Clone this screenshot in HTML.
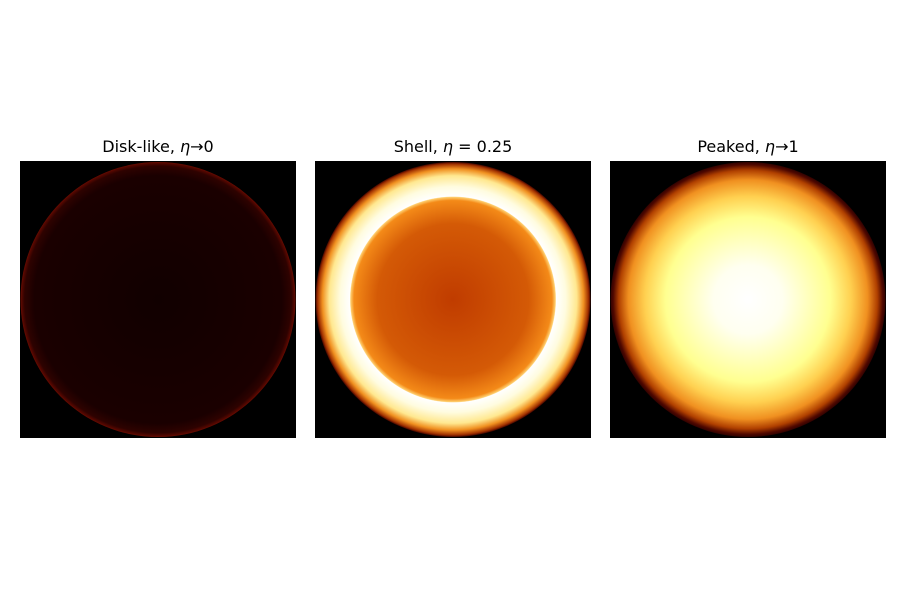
<!DOCTYPE html>
<html><head><meta charset="utf-8"><style>
body{margin:0;background:#fff;width:900px;height:600px;overflow:hidden;font-family:"DejaVu Sans","Liberation Sans",sans-serif}
.t{position:absolute;font-size:16px;color:#000;text-align:center;width:276px;top:137px}
</style></head><body>
<div class="t" style="left:20px">Disk-like, <i>η</i>→0</div>
<div class="t" style="left:315px">Shell, <i>η</i> = 0.25</div>
<div class="t" style="left:610px">Peaked, <i>η</i>→1</div>
<svg width="900" height="600" style="position:absolute;left:0;top:0">
<defs id="defs"></defs>
<g id="panels"></g>
</svg>
<script>
const panelNames=["disk","shell","peaked"];
const panelX=[20,315,610];
const offsets=[[0,0.9,0.97,0.995,1],[0,0.55,0.72,0.745,0.75,0.82,0.9,0.95,0.985,1],[0,0.25,0.6,0.75,0.87,0.94,0.98,1]];
const colors=[["#110000","#1a0000","#2e0200","#5a0800","#700c00"],
["#c03c00","#d45a06","#f48a18","#ffd070","#ffffff","#fffce0","#ffe890","#f09020","#a03000","#400400"],
["#ffffff","#fffff0","#ffff90","#ffd050","#f09020","#b04000","#500800","#300200"]];
const NS="http://www.w3.org/2000/svg";
const defs=document.getElementById('defs'),g=document.getElementById('panels');
panelNames.forEach((n,i)=>{
 const rg=document.createElementNS(NS,'radialGradient');rg.setAttribute('id','g'+i);
 offsets[i].forEach((o,j)=>{const s=document.createElementNS(NS,'stop');s.setAttribute('offset',o);s.setAttribute('stop-color',colors[i][j]);rg.appendChild(s);});
 defs.appendChild(rg);
 const r=document.createElementNS(NS,'rect');
 
 
 r.setAttribute('x',panelX[i]);r.setAttribute('y',161);r.setAttribute('width',276);r.setAttribute('height',277);r.setAttribute('fill','#000');g.appendChild(r);
 const c=document.createElementNS(NS,'circle');
 
 
 c.setAttribute('cx',panelX[i]+138);c.setAttribute('cy',299.5);c.setAttribute('r',137.5);c.setAttribute('fill','url(#g'+i+')');g.appendChild(c);
});
</script>
</body></html>
